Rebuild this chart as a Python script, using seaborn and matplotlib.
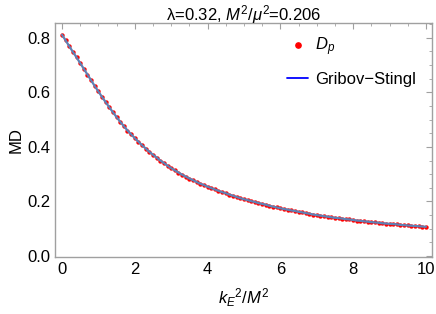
import matplotlib
matplotlib.use("Agg")
import matplotlib.pyplot as plt
import numpy as np
import pandas as pd
import seaborn as sns
from matplotlib.lines import Line2D
from matplotlib.ticker import MultipleLocator, FuncFormatter

# k_E^2/M^2 grid, step 0.1
k2 = [round(0.1 * i, 1) for i in range(101)]

# MD values
md = [
    0.811, 0.790, 0.769, 0.748, 0.728, 0.707, 0.686, 0.665, 0.644, 0.623,
    0.603, 0.583, 0.564, 0.545, 0.527, 0.509, 0.492, 0.476, 0.460, 0.446,
    0.432, 0.419, 0.406, 0.394, 0.382, 0.371, 0.361, 0.350, 0.341, 0.331,
    0.322, 0.314, 0.306, 0.298, 0.291, 0.284, 0.278, 0.271, 0.265, 0.260,
    0.254, 0.249, 0.244, 0.239, 0.234, 0.230, 0.225, 0.221, 0.216, 0.212,
    0.208, 0.205, 0.201, 0.198, 0.194, 0.191, 0.188, 0.184, 0.181, 0.178,
    0.175, 0.172, 0.170, 0.167, 0.165, 0.162, 0.160, 0.157, 0.155, 0.152,
    0.150, 0.148, 0.146, 0.144, 0.142, 0.140, 0.139, 0.137, 0.135, 0.134,
    0.132, 0.130, 0.129, 0.127, 0.126, 0.124, 0.123, 0.122, 0.120, 0.119,
    0.118, 0.117, 0.116, 0.114, 0.113, 0.112, 0.111, 0.110, 0.109, 0.108,
    0.107,
]

# Gribov-Stingl fit follows the points
fit = list(md)

df = pd.DataFrame({"k2": k2, "md": md, "fit": fit})

sns.set_theme(style="white")
plt.rcParams['font.family'] = ['Liberation Sans', 'DejaVu Sans']
plt.rcParams['mathtext.fontset'] = 'custom'
plt.rcParams['mathtext.rm'] = 'Liberation Sans'
plt.rcParams['mathtext.it'] = 'Liberation Sans:italic'
plt.rcParams['text.color'] = 'black'
plt.rcParams['axes.labelcolor'] = 'black'

fs = 12

fig = plt.figure(figsize=(4.36, 3.14), dpi=100)
ax = fig.add_axes([0.1255, 0.18, 0.8655, 0.7458])

sns.scatterplot(data=df, x="k2", y="md", ax=ax, color="red", s=10,
                linewidth=0, zorder=2)
sns.lineplot(data=df, x="k2", y="fit", ax=ax, color="#5e81b5", linewidth=1.6,
             zorder=3)

ax.set_xlim(-0.2, 10.17)
ax.set_ylim(-0.0055, 0.853)
ax.xaxis.set_major_locator(MultipleLocator(2))
ax.xaxis.set_minor_locator(MultipleLocator(0.5))
ax.yaxis.set_major_locator(MultipleLocator(0.2))
ax.yaxis.set_minor_locator(MultipleLocator(0.05))
ax.xaxis.set_major_formatter(FuncFormatter(lambda v, p: f"{v:.0f}"))
ax.yaxis.set_major_formatter(FuncFormatter(lambda v, p: f"{v:.1f}"))

frame = "#a0a0a0"
for sp in ax.spines.values():
    sp.set_color(frame)
    sp.set_linewidth(1.0)
ax.tick_params(which="both", direction="in", top=True, right=True,
               color=frame, labelsize=fs, labelcolor="black", pad=3)
ax.tick_params(which="major", length=4, width=0.8)
ax.tick_params(which="minor", length=2.2, width=0.6)

ax.set_xlabel(r"$k_E{}^2/M^2$", fontsize=fs, labelpad=7)
ax.set_ylabel("MD", fontsize=fs, labelpad=3)
ax.set_title(r"λ=0.32, $M^2/\mu^2$=0.206", fontsize=fs, pad=2)

handles = [
    Line2D([], [], marker="o", color="red", linestyle="none", markersize=3.8),
    Line2D([], [], color="blue", linewidth=1.3),
]
ax.legend(handles, [r"$D_p$", "Gribov\u2212Stingl"], loc="upper left",
          bbox_to_anchor=(0.575, 1.012), frameon=False, fontsize=fs,
          handlelength=1.3, labelspacing=0.85, handletextpad=0.4)

fig.savefig("out.png", dpi=100)
